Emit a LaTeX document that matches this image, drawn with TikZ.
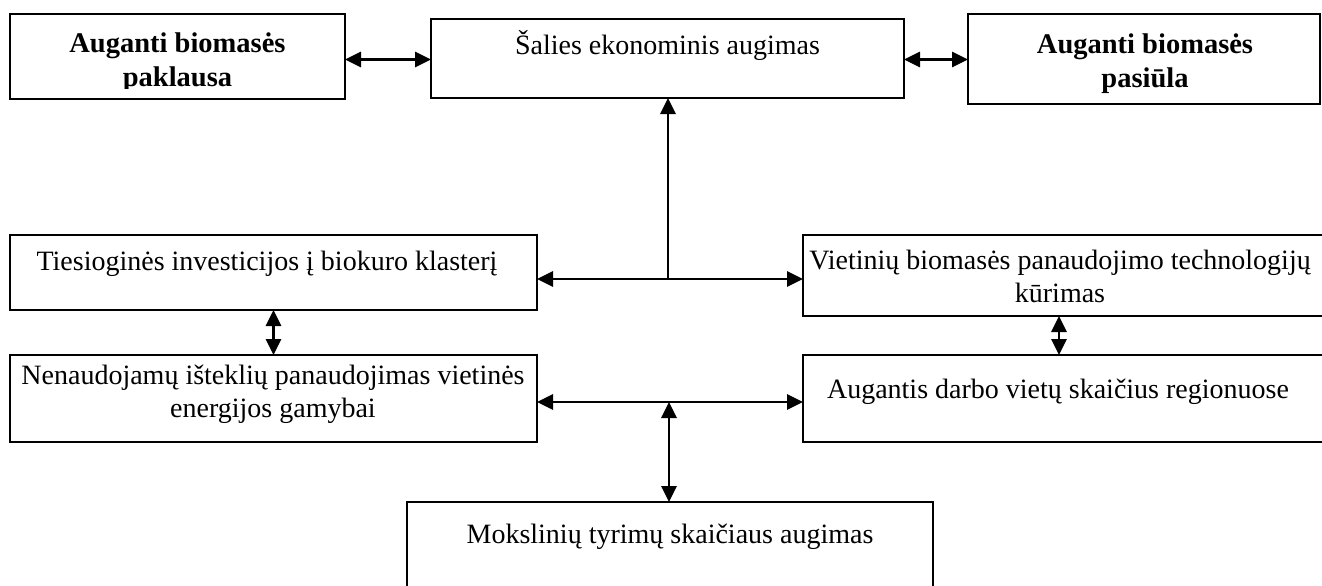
\documentclass[tikz,border=0pt]{standalone}
\usepackage{fontspec}
\setmainfont{Liberation Serif}
\usetikzlibrary{arrows.meta}
\begin{document}
\begin{tikzpicture}[x=1pt,y=-1pt,
  frame/.style={draw, rectangle, line width=2pt, inner sep=0pt, outer sep=0pt},
  txt/.style={font=\fontsize{28}{33}\selectfont, anchor=base, inner sep=0pt, align=center},
  btxt/.style={font=\fontsize{28.5}{34}\selectfont\bfseries, anchor=base, inner sep=0pt, align=center},
  tip/.tip={Triangle[length=16pt,width=15pt]},
  link/.style={line width=2.9pt, -tip},
  both/.style={line width=2.9pt, tip-tip},
]
\useasboundingbox (0,0) rectangle (1322,586);
\clip (0,0) rectangle (1322,586);

% boxes
\node[frame, minimum width=335pt, minimum height=85pt] (b1) at (177.5,56.5) {};
\node[frame, minimum width=473pt, minimum height=79pt] (b2) at (667.5,58.5) {};
\node[frame, minimum width=352pt, minimum height=90pt] (b3) at (1144,59) {};
\node[frame, minimum width=527pt, minimum height=75pt] (b4) at (273.5,272.5) {};
\node[frame, minimum width=532pt, minimum height=81pt] (b5) at (1069,275.5) {};
\node[frame, minimum width=527pt, minimum height=87pt] (b6) at (273.5,398.5) {};
\node[frame, minimum width=532pt, minimum height=87pt] (b7) at (1069,398.5) {};
\node[frame, minimum width=526pt, minimum height=98pt] (b8) at (670,551) {};

% texts (a multi-line node sits on the baseline of its last line)
\begin{scope}
  \clip (11,15) rectangle (344,88.5);
  \node[btxt] (t1) at (177.5,86) {Auganti biomasės\\paklausa};
\end{scope}
\node[txt] (t2) at (667.5,55) {Šalies ekonominis augimas};
\node[btxt] (t3) at (1145,87) {Auganti biomasės\\pasiūla};
\node[txt] (t4) at (267,270) {Tiesioginės investicijos į biokuro klasterį};
\node[txt] (t5) at (1060,302) {Vietinių biomasės panaudojimo technologijų\\kūrimas};
\node[txt] (t6) at (273,417) {Nenaudojamų išteklių panaudojimas vietinės\\energijos gamybai};
\node[txt] (t7) at (1058,398) {Augantis darbo vietų skaičius regionuose};
\node[txt] (t8) at (670,543) {Mokslinių tyrimų skaičiaus augimas};

% connectors
\coordinate (row) at (0,59.5);
\coordinate (hub) at (668,279);
\coordinate (hub2) at (669,402);
\coordinate (col) at (1059,0);

\draw[both] (b1.east |- row) -- (b2.west |- row);
\draw[both] (b2.east |- row) -- (b3.west |- row);
\draw[link] (hub) -- (hub |- b2.south);
\draw[link] (hub) -- (hub -| b4.east);
\draw[link] (hub) -- (hub -| b5.west);
\draw[both] (b4.south) -- (b6.north);
\draw[both] (b5.south -| col) -- (b7.north -| col);
\draw[both] (b6.east |- hub2) -- (b7.west |- hub2);
\draw[both] (hub2) -- (hub2 |- b8.north);
\end{tikzpicture}
\end{document}
